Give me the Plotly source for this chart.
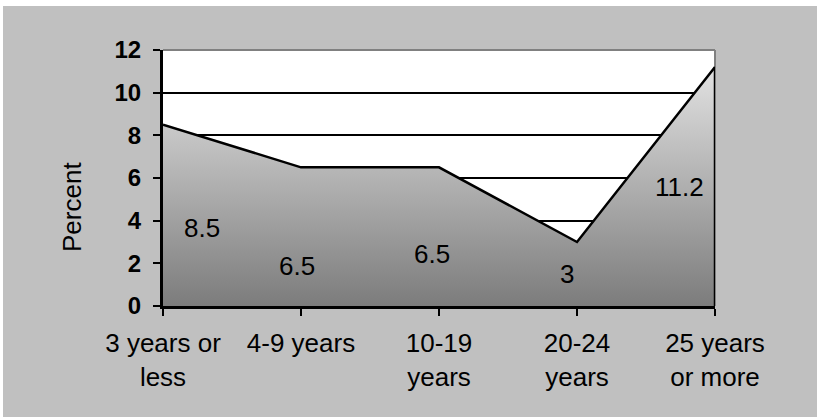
import plotly.graph_objects as go

# ---- data ----
categories = ["3 years or<br>less", "4-9 years", "10-19<br>years", "20-24<br>years", "25 years<br>or more"]
percent = [8.5, 6.5, 6.5, 3, 11.2]
y_ticks = [0, 2, 4, 6, 8, 10, 12]

# label placement (x in category index units, y in axis units) - layout only
label_pos = [(0.28, 3.66), (0.97, 1.88), (1.95, 2.44), (2.93, 1.5), (3.74, 5.58)]

FONT = "Liberation Sans, Arial, sans-serif"
W, H = 817, 417
L, R, T, B = 163, 102, 50, 111
PW, PH = W - L - R, H - T - B


def px_x(px):
    return (px - L) / PW


def px_y(py):
    return (H - B - py) / PH


xs = list(range(len(categories)))

fig = go.Figure()
fig.add_trace(go.Scatter(
    x=xs, y=percent, mode="lines", fill="tozeroy",
    line=dict(color="black", width=2.5),
    fillgradient=dict(type="vertical",
                      colorscale=[[0, "#7c7c7c"], [1, "#e2e2e2"]]),
    hoverinfo="skip", showlegend=False,
))

annotations = []
for (ax, ay), v in zip(label_pos, percent):
    annotations.append(dict(x=ax, y=ay, xref="x", yref="y", text=f"{v:g}",
                            showarrow=False, font=dict(family=FONT, size=26, color="black")))
annotations.append(dict(x=px_x(72), y=px_y(207), xref="paper", yref="paper",
                        xanchor="center", yanchor="middle",
                        text="Percent", textangle=-90, showarrow=False,
                        font=dict(family=FONT, size=26, color="black")))

shapes = [
    # white strips at top and left of the gray background
    dict(type="rect", xref="paper", yref="paper", x0=px_x(-5), x1=px_x(W + 5),
         y0=px_y(6), y1=px_y(-5), fillcolor="white", line_width=0, layer="above"),
    dict(type="rect", xref="paper", yref="paper", x0=px_x(-5), x1=px_x(3),
         y0=px_y(H + 5), y1=px_y(-5), fillcolor="white", line_width=0, layer="above"),
    # gray plot-area border top / right
    dict(type="line", xref="paper", yref="paper", x0=0, x1=1, y0=1, y1=1,
         line=dict(color="#808080", width=2), layer="above"),
    dict(type="line", xref="paper", yref="paper", x0=1, x1=1, y0=0, y1=1,
         line=dict(color="#808080", width=2), layer="below"),
    # right edge of area
    dict(type="line", xref="x", yref="y", x0=xs[-1], x1=xs[-1], y0=0, y1=percent[-1],
         line=dict(color="black", width=2.5), layer="above"),
]

fig.update_layout(
    width=W, height=H,
    margin=dict(l=L, r=R, t=T, b=B, pad=0),
    paper_bgcolor="#c0c0c0", plot_bgcolor="white",
    font=dict(family=FONT, color="black"),
    annotations=annotations, shapes=shapes,
    xaxis=dict(range=[0, len(categories) - 1], tickmode="array", tickvals=xs, ticktext=categories,
               tickfont=dict(family=FONT, size=26, color="black"),
               showgrid=False, zeroline=False, showline=True, linecolor="black", linewidth=3,
               ticks="outside", ticklen=7, tickwidth=2, tickcolor="black", ticklabelstandoff=5),
    yaxis=dict(range=[0, 12], tickmode="array", tickvals=y_ticks,
               ticktext=[f"<b>{t}</b>" for t in y_ticks],
               tickfont=dict(family=FONT, size=24, color="black"),
               showgrid=True, gridcolor="black", gridwidth=2, zeroline=False,
               showline=True, linecolor="black", linewidth=3,
               ticks="outside", ticklen=7, tickwidth=2, tickcolor="black", ticklabelstandoff=7),
)

fig.write_html(
    "out.html",
    config={"displayModeBar": False},
    post_script=(
        "document.documentElement.style.margin='0';"
        "document.body.style.margin='0';"
        "document.documentElement.style.overflow='hidden';"
        "document.body.style.overflow='hidden';"
        "document.body.style.background='#c0c0c0';"
    ),
)
